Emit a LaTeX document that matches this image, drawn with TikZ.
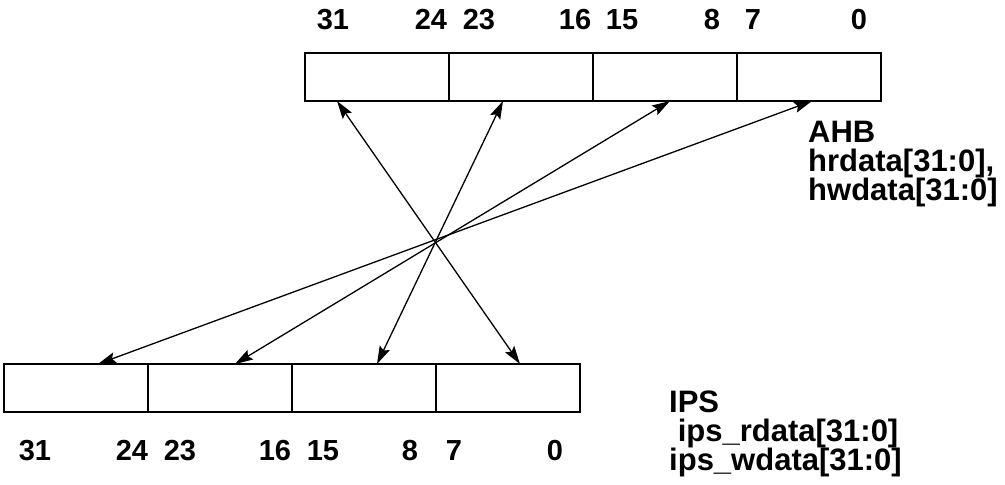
\documentclass[tikz,border=0pt]{standalone}
\usepackage{fontspec}
\setmainfont{Liberation Sans}
\usetikzlibrary{arrows.meta}
\begin{document}
\begin{tikzpicture}[x=1pt,y=-1pt,
  cell/.style={draw,line width=2.4pt,minimum width=144pt,minimum height=48pt,inner sep=0pt,outer sep=0pt},
  bitnum/.style={font=\bfseries\fontsize{29}{30}\selectfont,inner sep=0pt,anchor=base},
  lbl/.style={font=\bfseries\fontsize{31}{29}\selectfont,inner sep=0pt,align=left,anchor=north west},
  link/.style={line width=1.3pt,{Stealth[length=18pt,width=11pt,inset=3pt]}-{Stealth[length=18pt,width=11pt,inset=3pt]}}]
\useasboundingbox (0,0) rectangle (1005,485);
% top register
\node[cell] (t1) at (377,77) {};
\node[cell] (t2) at (521,77) {};
\node[cell] (t3) at (665,77) {};
\node[cell] (t4) at (809,77) {};
% bottom register
\node[cell] (b1) at (76,388) {};
\node[cell] (b2) at (220,388) {};
\node[cell] (b3) at (364,388) {};
\node[cell] (b4) at (508,388) {};
% top bit numbers
\node[bitnum] (tn31) at (333,29) {31};
\node[bitnum] (tn24) at (431,29) {24};
\node[bitnum] (tn23) at (479,29) {23};
\node[bitnum] (tn16) at (575,29) {16};
\node[bitnum] (tn15) at (622,29) {15};
\node[bitnum] (tn8) at (712,29) {8};
\node[bitnum] (tn7) at (753,29) {7};
\node[bitnum] (tn0) at (859,29) {0};
% bottom bit numbers
\node[bitnum] (bn31) at (35,460) {31};
\node[bitnum] (bn24) at (132,460) {24};
\node[bitnum] (bn23) at (180,460) {23};
\node[bitnum] (bn16) at (275,460) {16};
\node[bitnum] (bn15) at (323,460) {15};
\node[bitnum] (bn8) at (410,460) {8};
\node[bitnum] (bn7) at (454,460) {7};
\node[bitnum] (bn0) at (555,460) {0};
% labels
\node[lbl] (ahb) at (808,121) {AHB\\hrdata[31:0],\\hwdata[31:0]};
\node[lbl] (ips) at (669,391) {IPS\\~ips\_rdata[31:0]\\ips\_wdata[31:0]};
% byte swap connectors
\draw[link] ([xshift=-40pt]t1.south) -- ([xshift=12pt]b4.north);
\draw[link] ([xshift=-18pt]t2.south) -- ([xshift=13pt]b3.north);
\draw[link] ([xshift=5pt]t3.south) -- ([xshift=15pt]b2.north);
\draw[link] ([xshift=3pt]t4.south) -- ([xshift=22pt]b1.north);
\end{tikzpicture}
\end{document}
